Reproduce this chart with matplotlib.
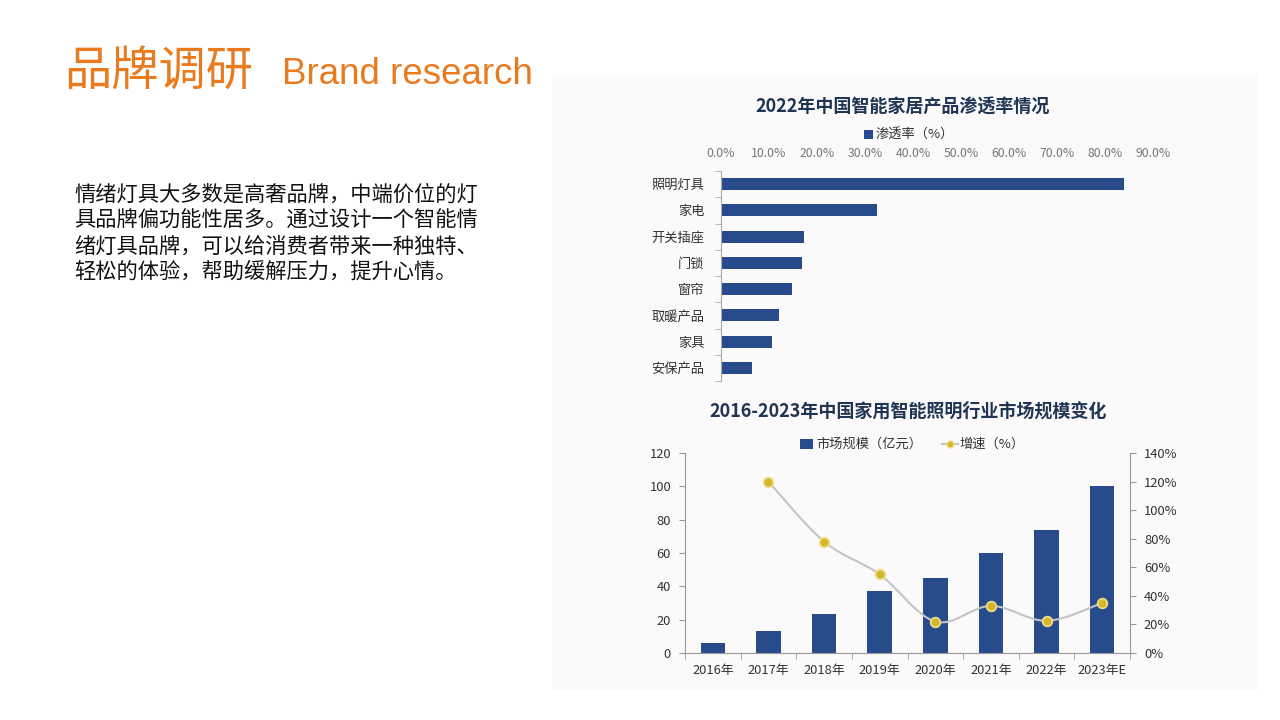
import matplotlib
matplotlib.use("Agg")
import matplotlib.pyplot as plt
import numpy as np
from matplotlib.path import Path
from matplotlib.patches import PathPatch, Rectangle
from matplotlib.lines import Line2D

plt.rcParams['font.family'] = ['Noto Sans CJK SC', 'DejaVu Sans']

# ---------------- data ----------------
pen_categories = ["照明灯具", "家电", "开关插座", "门锁", "窗帘", "取暖产品", "家具", "安保产品"]
pen_values = [84.0, 32.4, 17.2, 16.8, 14.7, 12.1, 10.7, 6.4]
pen_ticks = [0, 10, 20, 30, 40, 50, 60, 70, 80, 90]

years = ["2016年", "2017年", "2018年", "2019年", "2020年", "2021年", "2022年", "2023年E"]
market_size = [6, 13, 23.5, 37, 45, 60, 74, 100]
growth_years_idx = [1, 2, 3, 4, 5, 6, 7]
growth_rate = [120, 78, 55, 22, 33, 22.5, 35]

body_lines = [
    "情绪灯具大多数是高奢品牌，中端价位的灯",
    "具品牌偏功能性居多。通过设计一个智能情",
    "绪灯具品牌，可以给消费者带来一种独特、",
    "轻松的体验，帮助缓解压力，提升心情。",
]

W, H = 1280, 720
fig = plt.figure(figsize=(12.8, 7.2), dpi=100)
fig.patch.set_facecolor("white")

def fx(px):
    return px / W

def fy(py):
    return 1 - py / H

ORANGE = "#E97A1E"
NAVY = "#284B8C"
TITLE_C = "#1F3553"

# heading
fig.text(fx(64), fy(72), "品牌调研", fontsize=34, color=ORANGE, va="center", ha="left")
fig.text(fx(282), fy(74), "Brand research", fontsize=26.5, color=ORANGE, va="center", ha="left",
         family=["Liberation Sans", "DejaVu Sans"])

for i, line in enumerate(body_lines):
    fig.text(fx(74), fy(195 + i * 25.7), line, fontsize=15.3, color="#111111", va="center", ha="left")

# background panel of the screenshot
fig.patches.append(Rectangle((fx(552), fy(690)), fx(1258) - fx(552), fy(75) - fy(690),
                             transform=fig.transFigure, facecolor="#fbf9f9", edgecolor="none", zorder=-5))

# ---------------- chart 1 ----------------
fig.text(fx(903), fy(107), "2022年中国智能家居产品渗透率情况", fontsize=13, fontweight="bold",
         color=TITLE_C, ha="center", va="center")
fig.patches.append(Rectangle((fx(864), fy(139)), fx(9), 9 / H, transform=fig.transFigure,
                             facecolor=NAVY, edgecolor="none"))
fig.text(fx(876), fy(134), "渗透率（%）", fontsize=9.5, color="#333333", ha="left", va="center")

ax1 = fig.add_axes([fx(721), fy(381), fx(1153) - fx(721), fy(171) - fy(381)])
ax1.set_facecolor("none")
ax1.set_zorder(2)
ypos = np.arange(len(pen_categories))
ax1.barh(ypos, pen_values, height=0.46, color=NAVY)
ax1.set_ylim(len(pen_categories) - 0.5, -0.5)
ax1.set_xlim(0, 90)
ax1.xaxis.tick_top()
ax1.set_xticks(pen_ticks)
ax1.set_xticklabels([f"{t:.1f}%" for t in pen_ticks], fontsize=8.8, color="#777777")
ax1.tick_params(axis="x", length=0, pad=8)
ax1.set_yticks(ypos)
ax1.set_yticklabels(pen_categories, fontsize=9.5, color="#333333")
ax1.tick_params(axis="y", length=0, pad=12)
ax1.set_yticks(np.arange(-0.5, len(pen_categories), 1), minor=True)
ax1.tick_params(axis="y", which="minor", length=4, color="#aaaaaa", direction="out")
for s in ["top", "right", "bottom"]:
    ax1.spines[s].set_visible(False)
ax1.spines["left"].set_color("#aaaaaa")

# ---------------- chart 2 ----------------
fig.text(fx(908), fy(411), "2016-2023年中国家用智能照明行业市场规模变化", fontsize=13,
         color=TITLE_C, ha="center", va="center", fontweight="bold")

ax2 = fig.add_axes([fx(685), fy(653), fx(1130) - fx(685), fy(453) - fy(653)])
ax2.set_facecolor("none")
ax2.set_zorder(2)
x = np.arange(len(years))
ax2.bar(x, market_size, width=0.44, color=NAVY, zorder=2)
ax2.set_xlim(-0.5, len(years) - 0.5)
ax2.set_ylim(0, 120)
ax2.set_yticks(np.arange(0, 121, 20))
ax2.tick_params(axis="y", labelsize=9.3, colors="#333333", length=4, color="#999999", pad=6)
ax2.set_xticks(x)
ax2.set_xticklabels(years, fontsize=9.3, color="#333333")
ax2.tick_params(axis="x", length=0, pad=8)
ax2.set_xticks(np.arange(-0.5, len(years), 1), minor=True)
ax2.tick_params(axis="x", which="minor", length=4, color="#999999")
ax2.spines["top"].set_visible(False)
ax2.spines["right"].set_visible(False)
for s in ["left", "bottom"]:
    ax2.spines[s].set_color("#999999")

ax3 = ax2.twinx()
ax3.set_zorder(3)
ax3.set_facecolor("none")
ax3.set_ylim(0, 140)
ax3.set_yticks(np.arange(0, 141, 20))
ax3.set_yticklabels([f"{v}%" for v in range(0, 141, 20)])
ax3.tick_params(axis="y", labelsize=9.3, colors="#333333", length=4, color="#999999", pad=6)
for s in ["top", "left", "bottom"]:
    ax3.spines[s].set_visible(False)
ax3.spines["right"].set_color("#999999")

# smoothed line through the growth points (Catmull-Rom -> cubic Bezier)
P = np.column_stack([np.array(growth_years_idx, float), np.array(growth_rate, float)])
verts = [tuple(P[0])]
codes = [Path.MOVETO]
n = len(P)
for i in range(n - 1):
    p0 = P[i - 1] if i > 0 else P[i]
    p1 = P[i]
    p2 = P[i + 1]
    p3 = P[i + 2] if i + 2 < n else P[i + 1]
    c1 = p1 + (p2 - p0) / 6.0
    c2 = p2 - (p3 - p1) / 6.0
    verts += [tuple(c1), tuple(c2), tuple(p2)]
    codes += [Path.CURVE4] * 3
ax3.add_patch(PathPatch(Path(verts, codes), facecolor="none", edgecolor="#c4c4c4", lw=1.5, zorder=3))
ax3.plot(growth_years_idx, growth_rate, ls="none", marker="o", markersize=7,
         markerfacecolor="#D6B62C", markeredgecolor="#EDE08A", markeredgewidth=1.2, zorder=4)

# legend chart 2
fig.patches.append(Rectangle((fx(800), fy(449)), fx(13), 10 / H, transform=fig.transFigure,
                             facecolor=NAVY, edgecolor="none"))
fig.text(fx(816), fy(444), "市场规模（亿元）", fontsize=9.5, color="#333333", ha="left", va="center")
fig.lines.append(Line2D([fx(942), fx(958)], [fy(444), fy(444)], transform=fig.transFigure,
                        color="#c4c4c4", lw=1.5))
fig.lines.append(Line2D([fx(950)], [fy(444)], transform=fig.transFigure, marker="o", markersize=5,
                        markerfacecolor="#D6B62C", markeredgecolor="#EDE08A", ls="none"))
fig.text(fx(959), fy(444), "增速（%）", fontsize=9.5, color="#333333", ha="left", va="center")

fig.savefig("out.png", dpi=100, facecolor="white")
